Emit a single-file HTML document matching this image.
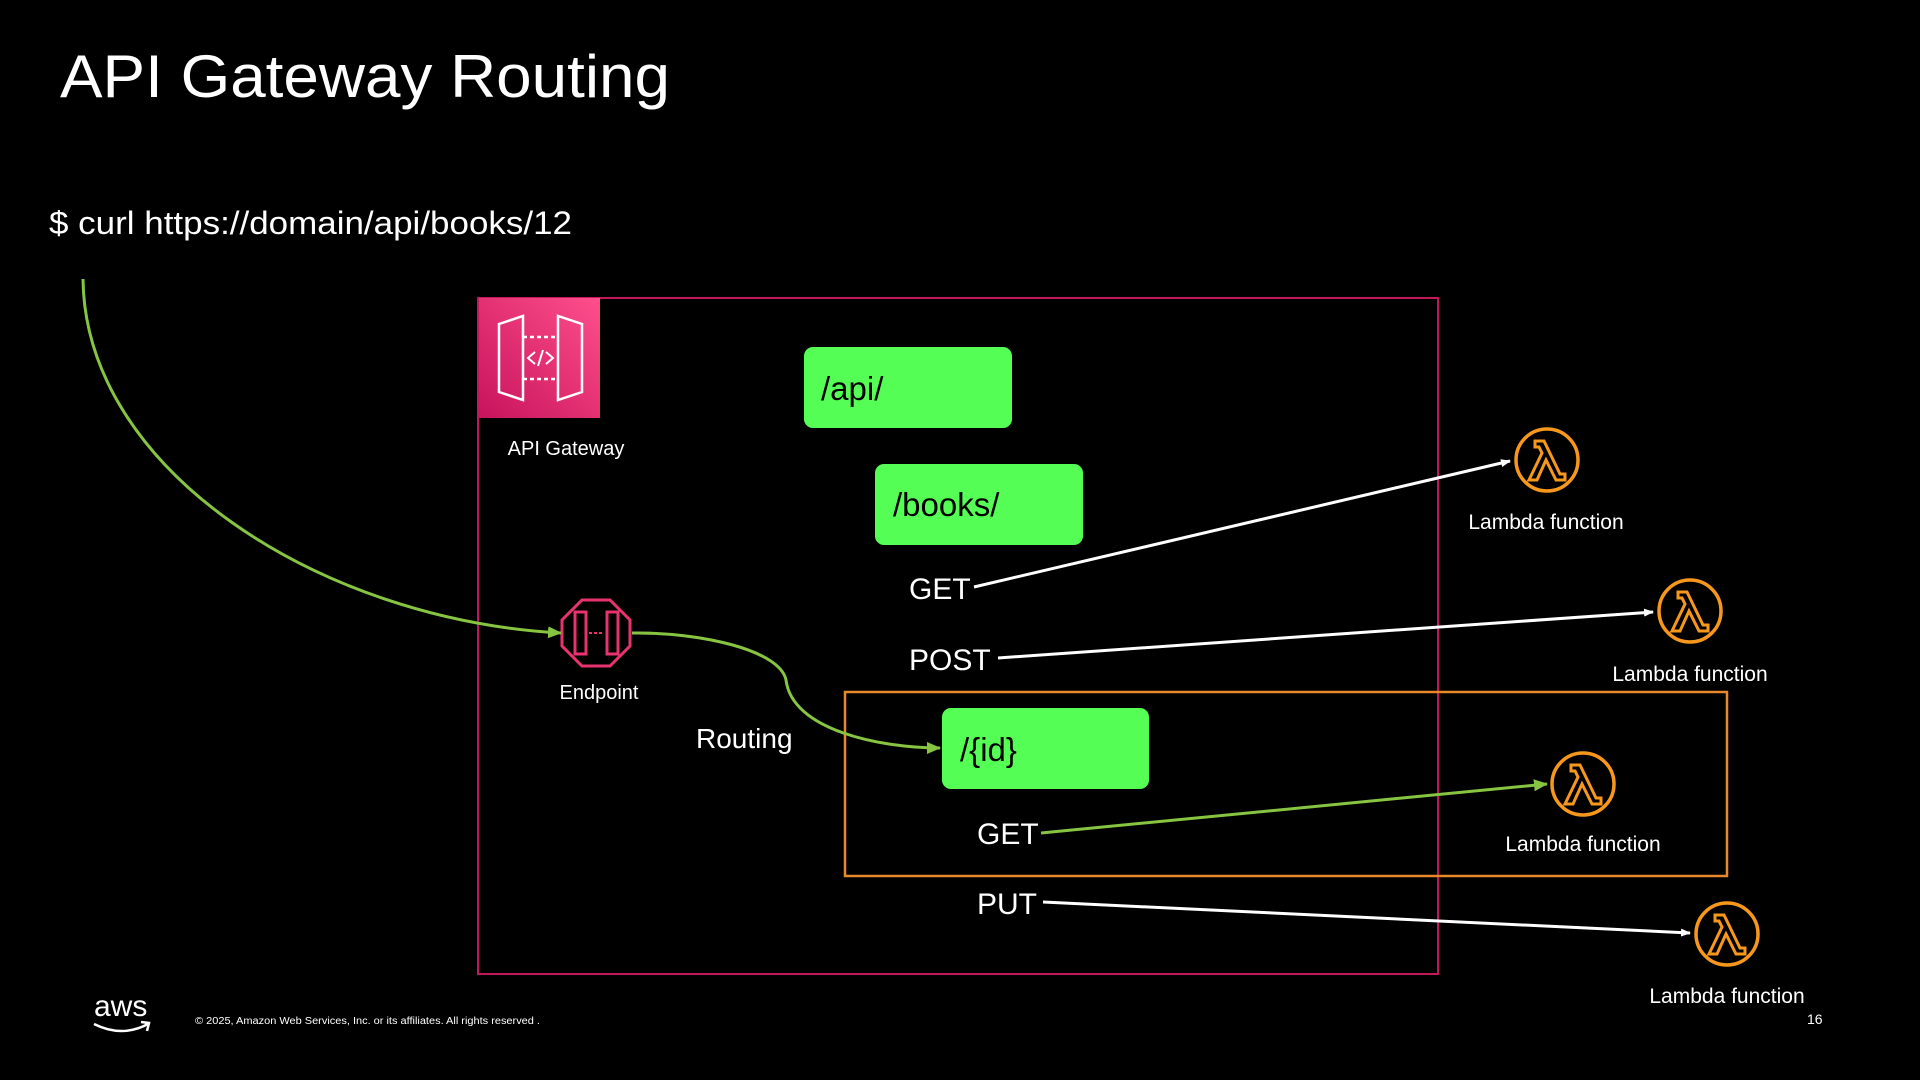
<!DOCTYPE html>
<html><head><meta charset="utf-8"><style>
html,body{margin:0;padding:0;background:#000;width:1920px;height:1080px;overflow:hidden}
svg{display:block}
text{font-family:"Liberation Sans",sans-serif}
</style></head><body>
<svg width="1920" height="1080" viewBox="0 0 1920 1080" xmlns="http://www.w3.org/2000/svg">
<defs>
<marker id="aw" markerWidth="10" markerHeight="8" refX="9" refY="4" orient="auto" markerUnits="userSpaceOnUse"><path d="M0,0 L10,4 L0,8 Z" fill="#fff"/></marker>
<marker id="ag" markerWidth="14" markerHeight="12" refX="13" refY="6" orient="auto" markerUnits="userSpaceOnUse"><path d="M0,0 L14,6 L0,12 Z" fill="#86c441"/></marker>
<linearGradient id="pg" x1="1" y1="0" x2="0" y2="1"><stop offset="0" stop-color="#ff4f8b"/><stop offset="1" stop-color="#c7135c"/></linearGradient>
<g id="lam"><circle r="31" fill="none" stroke="#f7981d" stroke-width="3.5"/>
<path d="M-12,-19 L-3,-19 L13,14 L18,14 L18,20 L9,20 L-1,0 L-10,20 L-18,20 L-5,-7 L-8,-13 L-12,-13 Z" fill="none" stroke="#f7981d" stroke-width="3" stroke-linejoin="miter"/></g>
</defs>
<text x="60" y="97" font-size="60" fill="#fff" textLength="610" lengthAdjust="spacingAndGlyphs">API Gateway Routing</text>
<text x="49" y="234" font-size="32" fill="#fff" textLength="523" lengthAdjust="spacingAndGlyphs">$ curl https://domain/api/books/12</text>

<rect x="478" y="298" width="960" height="676" fill="none" stroke="#c2185b" stroke-width="2"/>
<rect x="845" y="692" width="882" height="184" fill="none" stroke="#e8882a" stroke-width="2.5"/>

<rect x="479" y="298" width="121" height="120" fill="url(#pg)"/>
<g fill="none" stroke="#fff" stroke-width="2.5">
<path d="M499,324 L523,316 L523,400 L499,392 Z"/><path d="M582,324 L558,316 L558,400 L582,392 Z"/>
<path d="M523,337 L558,337 M523,379 L558,379" stroke-dasharray="4 3"/>
<path d="M535,352 L528,358 L535,364 M546,352 L553,358 L546,364 M543,350 L538,366" stroke-width="2"/>
</g>
<text x="566" y="455" font-size="20" fill="#fff" text-anchor="middle">API Gateway</text>

<g fill="none" stroke="#e8336f" stroke-width="3">
<polygon points="582,600 610,600 630,620 630,646 610,666 582,666 562,646 562,620"/>
<path d="M575,612 L586,612 L586,654 L575,654 Z M618,612 L607,612 L607,654 L618,654 Z"/>
<path d="M589,633 L604,633" stroke-dasharray="3 2" stroke-width="2"/>
</g>
<text x="599" y="699" font-size="20" fill="#fff" text-anchor="middle">Endpoint</text>
<text x="696" y="748" font-size="28" fill="#fff">Routing</text>

<rect x="804" y="347" width="208" height="81" rx="9" fill="#55fe55"/>
<text x="821" y="400" font-size="33" fill="#000">/api/</text>
<rect x="875" y="464" width="208" height="81" rx="9" fill="#55fe55"/>
<text x="893" y="516" font-size="33" fill="#000">/books/</text>
<rect x="942" y="708" width="207" height="81" rx="9" fill="#55fe55"/>
<text x="960" y="761" font-size="33" fill="#000">/{id}</text>

<text x="909" y="599" font-size="30" fill="#fff">GET</text>
<text x="909" y="670" font-size="30" fill="#fff">POST</text>
<text x="977" y="844" font-size="30" fill="#fff">GET</text>
<text x="977" y="914" font-size="30" fill="#fff">PUT</text>

<path d="M83,279 C85,470 320,620 561,633" fill="none" stroke="#86c441" stroke-width="3" marker-end="url(#ag)"/>
<path d="M632,633 C700,632 780,650 786,680 C792,730 880,748 940,748" fill="none" stroke="#86c441" stroke-width="3" marker-end="url(#ag)"/>
<line x1="974" y1="587" x2="1510" y2="461" stroke="#fff" stroke-width="3" marker-end="url(#aw)"/>
<line x1="998" y1="658" x2="1653" y2="612" stroke="#fff" stroke-width="3" marker-end="url(#aw)"/>
<line x1="1041" y1="833" x2="1547" y2="784" stroke="#86c441" stroke-width="3" marker-end="url(#ag)"/>
<line x1="1043" y1="902" x2="1690" y2="933" stroke="#fff" stroke-width="3" marker-end="url(#aw)"/>

<use href="#lam" x="1547" y="460"/>
<use href="#lam" x="1690" y="611"/>
<use href="#lam" x="1583" y="784"/>
<use href="#lam" x="1727" y="934"/>
<g font-size="21" fill="#fff" text-anchor="middle">
<text x="1546" y="529">Lambda function</text>
<text x="1690" y="681">Lambda function</text>
<text x="1583" y="851">Lambda function</text>
<text x="1727" y="1003">Lambda function</text>
</g>

<text x="94" y="1016" font-size="30" fill="#fff">aws</text>
<path d="M94,1024 Q122,1038 148,1024 M141,1022 L149,1023 L147,1031" fill="none" stroke="#fff" stroke-width="2.5"/>
<text x="195" y="1024" font-size="10" fill="#fff" textLength="345" lengthAdjust="spacingAndGlyphs">© 2025, Amazon Web Services, Inc. or its affiliates. All rights reserved .</text>
<text x="1807" y="1024" font-size="14" fill="#fff">16</text>
</svg>
</body></html>
